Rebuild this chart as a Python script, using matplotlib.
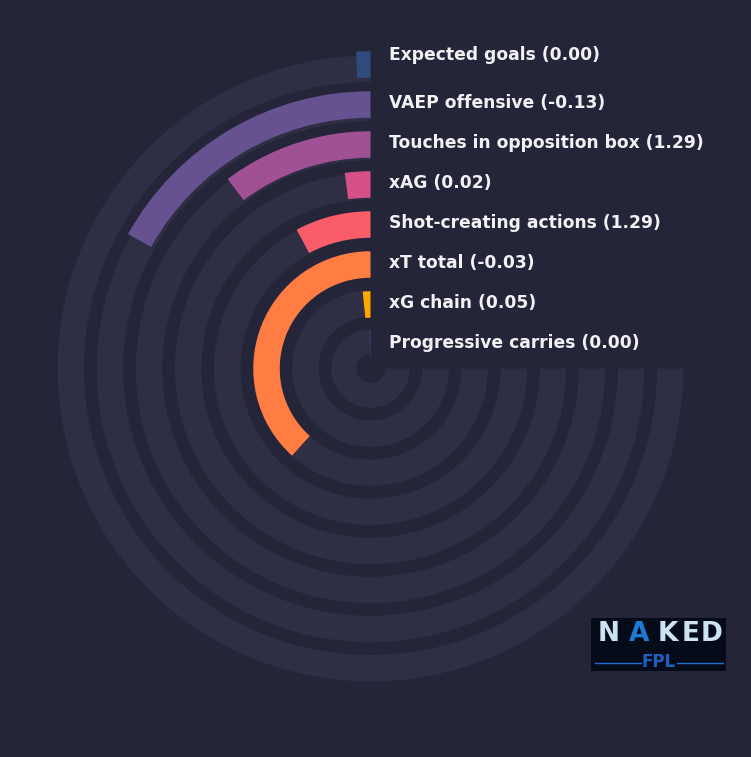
import matplotlib
matplotlib.use("Agg")
import matplotlib.pyplot as plt
import numpy as np

# ---- data (outermost ring first) ----
metrics = [
    "Expected goals",
    "VAEP offensive",
    "Touches in opposition box",
    "xAG",
    "Shot-creating actions",
    "xT total",
    "xG chain",
    "Progressive carries",
]
metric_values = [0.00, -0.13, 1.29, 0.02, 1.29, -0.03, 0.05, 0.00]
# bar sweep, in degrees of the 270 degree track
bar_sweep_deg = [2.6, 61.0, 37.0, 7.5, 28.0, 138.0, 5.8, 1.5]
bar_colors = ["#2f4b7c", "#665191", "#a05195", "#d45087",
              "#f95d6a", "#ff7c43", "#ffa600", "#2f4b7c"]

BG = "#252539"
TRACK = "#2e2e44"
W, H, DPI = 751, 757, 100
CX, CY = 370.5, 388.5   # polar centre, pixels from bottom-left
R = 330                 # radial limit in pixels

fig = plt.figure(figsize=(W / DPI, H / DPI), dpi=DPI, facecolor=BG)
ax = fig.add_axes([(CX - R) / W, (CY - R) / H, 2 * R / W, 2 * R / H],
                  projection="polar")
ax.set_facecolor("none")
ax.set_theta_zero_location("N")
ax.set_theta_direction(1)
ax.set_rlim(0, R)
ax.axis("off")

n = len(metrics)
ring_idx = np.arange(n)[::-1]          # 7 for outermost ... 0 for innermost
track_r = 26 + 39.1 * ring_idx
bar_r = 24 + 40.0 * ring_idx
band = 26.5

# background tracks (three quarters of a circle)
ax.bar(np.zeros(n), height=band, width=np.deg2rad(270), bottom=track_r - band / 2,
       align="edge", color=TRACK, linewidth=0, zorder=1)
# hole in the middle
ax.bar(0, height=14.5, width=2 * np.pi, bottom=0, align="edge",
       color=BG, linewidth=0, zorder=2)

# value bars
ax.bar(np.zeros(n), height=band, width=np.deg2rad(bar_sweep_deg),
       bottom=bar_r - band / 2, align="edge", color=bar_colors,
       linewidth=0, zorder=3)

# labels, to the right of where the bars start
for i, (name, val) in enumerate(zip(metrics, metric_values)):
    dy = 9 if i == 0 else 1
    ax.annotate(f"{name} ({val:.2f})", xy=(0, bar_r[i]), xytext=(13.5, dy * 0.72),
                textcoords="offset points", ha="left", va="center",
                fontsize=12.3, fontweight="bold", color="#f2f2f5", zorder=5,
                annotation_clip=False)

# logo
lx, ly, lw, lh = 591, 757 - 671, 135, 53
lax = fig.add_axes([lx / W, ly / H, lw / W, lh / H])
lax.set_facecolor("#060b1a")
lax.set_xlim(0, lw)
lax.set_ylim(0, lh)
lax.set_xticks([])
lax.set_yticks([])
for s in lax.spines.values():
    s.set_visible(False)
for ch, x, col in zip("NAKED", [18, 48, 77, 100, 121],
                      ["#cde3f3", "#1f7ad6", "#cde3f3", "#cde3f3", "#cde3f3"]):
    lax.text(x, 37, ch, ha="center", va="center", fontsize=19,
             fontweight="bold", color=col)
lax.text(67.5, 9, "FPL", ha="center", va="center", fontsize=12,
         fontweight="bold", color="#1f5fc0")
lax.plot([4, 50], [8.3, 8.3], color="#1f6fd0", lw=1)
lax.plot([86, 132], [8.3, 8.3], color="#1f6fd0", lw=1)

fig.savefig("out.png", dpi=DPI, facecolor=BG)
